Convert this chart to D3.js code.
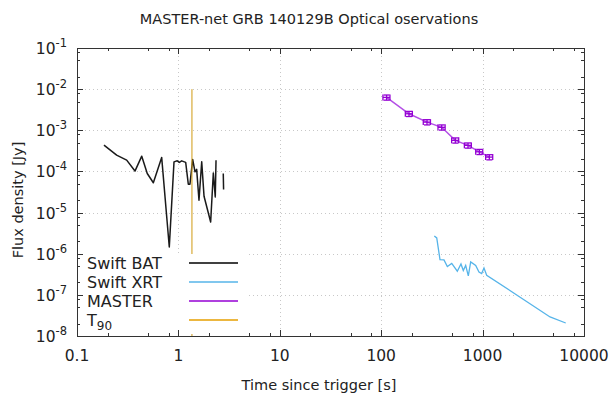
<!DOCTYPE html>
<html>
<head>
<meta charset="utf-8">
<script src="https://cdn.jsdelivr.net/npm/d3@7"></script>
<style>
  body { margin: 0; background: #fff; }
  text { font-family: "DejaVu Sans", sans-serif; fill: #222; }
</style>
</head>
<body>
<svg id="chart"></svg>
<script>
const width = 613, height = 396;
const margin = {top: 48, right: 29, bottom: 60, left: 77};

// Swift BAT (null = gap in the light curve)
const batTime = [0.1845, 0.246, 0.309, 0.373, 0.435, 0.493, 0.566, 0.684, 0.813, 0.905, 0.975, 1.02, 1.078, 1.18, 1.252, 1.30, 1.383, 1.458, 1.514, 1.596, 1.698, 1.79, 2.08, 2.21, 2.31, 2.35, null, 2.77, 2.79];
const batFlux = [4.36e-4, 2.49e-4, 1.88e-4, 1.02e-4, 2.35e-4, 8.9e-5, 5.3e-5, 2.19e-4, 1.46e-6, 1.71e-4, 1.81e-4, 1.66e-4, 1.81e-4, 1.66e-4, 4.9e-5, 4.9e-5, 1.96e-4, 9.8e-5, 1.12e-4, 2.0e-5, 1.71e-4, 2.5e-5, 5.9e-6, 9.2e-5, 2.4e-5, 1.88e-4, null, 8.9e-5, 3.65e-5];

// Swift XRT
const xrtTime = [334, 353, 380, 416, 449, 496, 563, 612, 645, 681, 723, 763, 855, 921, 979, 1032, 1097, 4624, 6607];
const xrtFlux = [2.71e-6, 2.42e-6, 7.2e-7, 7.1e-7, 4.9e-7, 5.8e-7, 3.75e-7, 5.65e-7, 3.9e-7, 5.2e-7, 2.88e-7, 6.3e-7, 5.2e-7, 3.6e-7, 3.3e-7, 4.5e-7, 3.0e-7, 2.9e-8, 2.07e-8];

// MASTER
const masterTime = [113, 188, 283, 395, 538, 718, 929, 1165];
const masterFlux = [6.3e-3, 2.52e-3, 1.58e-3, 1.18e-3, 5.7e-4, 4.3e-4, 3.0e-4, 2.23e-4];
const masterTimeErr = [9, 15, 23, 32, 43, 57, 74, 93];
const masterFluxErr = [9.0e-4, 3.6e-4, 2.3e-4, 1.7e-4, 8.2e-5, 6.2e-5, 4.3e-5, 3.2e-5];

// T90
const t90Time = [1.36, 1.36];
const t90Flux = [1e-2, 1e-8];

const xTicks = [0.1, 1, 10, 100, 1000, 10000];
const xTickLabels = ["0.1", "1", "10", "100", "1000", "10000"];
const yExponents = [-1, -2, -3, -4, -5, -6, -7, -8];
const minorMult = [2, 5, 8];

const legendItems = [
  {label: "Swift BAT", color: "#000000"},
  {label: "Swift XRT", color: "#56b4e9"},
  {label: "MASTER", color: "#9400d3"},
  {label: "T", sub: "90", color: "#e69f00"}
];

const svg = d3.select("#chart")
  .attr("width", width)
  .attr("height", height);

const x = d3.scaleLog().domain([0.1, 10000]).range([margin.left, width - margin.right]);
const y = d3.scaleLog().domain([1e-8, 0.1]).range([height - margin.bottom, margin.top]);
const x0 = x.range()[0], x1 = x.range()[1];
const y0 = y.range()[0], y1 = y.range()[1];

// grid
const grid = svg.append("g")
  .attr("stroke", "#c8c8c8")
  .attr("stroke-width", 1)
  .attr("stroke-dasharray", "1,3");
grid.selectAll("line.gx")
  .data(xTicks.slice(1, -1))
  .join("line")
  .attr("x1", d => Math.round(x(d)) + 0.5).attr("x2", d => Math.round(x(d)) + 0.5)
  .attr("y1", y1).attr("y2", y0);
grid.selectAll("line.gy")
  .data(yExponents.slice(1, -1))
  .join("line")
  .attr("class", "gy")
  .attr("y1", d => Math.round(y(Math.pow(10, d))) + 0.5).attr("y2", d => Math.round(y(Math.pow(10, d))) + 0.5)
  .attr("x1", x0).attr("x2", x1);

// data
const line = d3.line()
  .defined(d => d[0] != null)
  .x(d => x(d[0]))
  .y(d => y(d[1]));

svg.append("path")
  .datum(batTime.map((t, i) => [t, batFlux[i]]))
  .attr("fill", "none")
  .attr("stroke", "#1a1a1a")
  .attr("stroke-width", 1.5)
  .attr("stroke-linejoin", "round")
  .attr("d", line);

svg.append("path")
  .datum(xrtTime.map((t, i) => [t, xrtFlux[i]]))
  .attr("fill", "none")
  .attr("stroke", "#56b4e9")
  .attr("stroke-width", 1.3)
  .attr("d", line);

svg.append("path")
  .datum(t90Time.map((t, i) => [t, t90Flux[i]]))
  .attr("fill", "none")
  .attr("stroke", "#d09a10")
  .attr("stroke-width", 1)
  .attr("d", line);

const masterData = masterTime.map((t, i) => ({t, f: masterFlux[i], dt: masterTimeErr[i], df: masterFluxErr[i]}));

svg.append("path")
  .datum(masterData.map(d => [d.t, d.f]))
  .attr("fill", "none")
  .attr("stroke", "#b450e6")
  .attr("stroke-width", 1.5)
  .attr("d", line);

const cap = 3;
const eb = svg.append("g")
  .attr("stroke", "#9400d3")
  .attr("stroke-width", 1.3)
  .selectAll("g")
  .data(masterData)
  .join("g");
eb.append("line")
  .attr("x1", d => x(d.t - d.dt)).attr("x2", d => x(d.t + d.dt))
  .attr("y1", d => y(d.f)).attr("y2", d => y(d.f));
eb.append("line")
  .attr("x1", d => x(d.t - d.dt)).attr("x2", d => x(d.t - d.dt))
  .attr("y1", d => y(d.f) - cap).attr("y2", d => y(d.f) + cap);
eb.append("line")
  .attr("x1", d => x(d.t + d.dt)).attr("x2", d => x(d.t + d.dt))
  .attr("y1", d => y(d.f) - cap).attr("y2", d => y(d.f) + cap);
eb.append("line")
  .attr("x1", d => x(d.t)).attr("x2", d => x(d.t))
  .attr("y1", d => y(d.f + d.df)).attr("y2", d => y(d.f - d.df));
eb.append("line")
  .attr("x1", d => x(d.t) - cap).attr("x2", d => x(d.t) + cap)
  .attr("y1", d => y(d.f + d.df)).attr("y2", d => y(d.f + d.df));
eb.append("line")
  .attr("x1", d => x(d.t) - cap).attr("x2", d => x(d.t) + cap)
  .attr("y1", d => y(d.f - d.df)).attr("y2", d => y(d.f - d.df));

// legend (opaque)
const legend = svg.append("g");
legend.append("rect")
  .attr("x", 80).attr("y", 254)
  .attr("width", 166).attr("height", 80)
  .attr("fill", "#fff");
const li = legend.selectAll("g.item")
  .data(legendItems)
  .join("g")
  .attr("transform", (d, i) => `translate(0, ${263 + i * 19})`);
li.append("text")
  .attr("x", 87)
  .attr("dy", "0.36em")
  .attr("font-size", 16)
  .each(function(d) {
    const t = d3.select(this);
    t.append("tspan").text(d.label);
    if (d.sub) t.append("tspan").attr("dy", 4).attr("font-size", 12).text(d.sub);
  });
li.append("line")
  .attr("x1", 189).attr("x2", 238)
  .attr("stroke", d => d.color)
  .attr("stroke-width", 1.3);

// border + ticks
const axisColor = "#333";
svg.append("rect")
  .attr("x", x0 + 0.5).attr("y", y1 + 0.5)
  .attr("width", x1 - x0).attr("height", y0 - y1)
  .attr("fill", "none")
  .attr("stroke", axisColor)
  .attr("stroke-width", 1);

const xMinor = [];
xTicks.slice(0, -1).forEach(v => minorMult.forEach(m => xMinor.push(v * m)));
const yMinor = [];
yExponents.slice(0, -1).forEach(e => minorMult.forEach(m => yMinor.push(m * Math.pow(10, e - 1))));

const ticks = svg.append("g").attr("stroke", axisColor).attr("stroke-width", 1);
const xt = [...xTicks.map(v => ({v, len: 6})), ...xMinor.map(v => ({v, len: 3}))];
const yt = [...yExponents.map(e => ({v: Math.pow(10, e), len: 6})), ...yMinor.map(v => ({v, len: 3}))];
xt.forEach(d => {
  const px = Math.round(x(d.v)) + 0.5;
  ticks.append("line").attr("x1", px).attr("x2", px).attr("y1", y0).attr("y2", y0 - d.len);
  ticks.append("line").attr("x1", px).attr("x2", px).attr("y1", y1).attr("y2", y1 + d.len);
});
yt.forEach(d => {
  const py = Math.round(y(d.v)) + 0.5;
  ticks.append("line").attr("y1", py).attr("y2", py).attr("x1", x0).attr("x2", x0 + d.len);
  ticks.append("line").attr("y1", py).attr("y2", py).attr("x1", x1).attr("x2", x1 - d.len);
});

// tick labels
svg.append("g")
  .selectAll("text")
  .data(xTicks)
  .join("text")
  .attr("x", d => x(d))
  .attr("y", 361)
  .attr("text-anchor", "middle")
  .attr("font-size", 15.5)
  .text((d, i) => xTickLabels[i]);

svg.append("g")
  .selectAll("text")
  .data(yExponents)
  .join("text")
  .attr("x", 67)
  .attr("y", d => y(Math.pow(10, d)) + 6)
  .attr("text-anchor", "end")
  .attr("font-size", 15.5)
  .each(function(d) {
    const t = d3.select(this);
    t.append("tspan").text("10");
    t.append("tspan").attr("dy", -7).attr("font-size", 11.5).text("-" + Math.abs(d));
  });

// titles
svg.append("text")
  .attr("x", 309).attr("y", 24)
  .attr("text-anchor", "middle")
  .attr("font-size", 14.5)
  .text("MASTER-net GRB 140129B Optical oservations");

svg.append("text")
  .attr("x", 319).attr("y", 390)
  .attr("text-anchor", "middle")
  .attr("font-size", 14.5)
  .text("Time since trigger [s]");

svg.append("text")
  .attr("transform", "translate(23, 200) rotate(-90)")
  .attr("text-anchor", "middle")
  .attr("font-size", 14.5)
  .text("Flux density [Jy]");
</script>
</body>
</html>
